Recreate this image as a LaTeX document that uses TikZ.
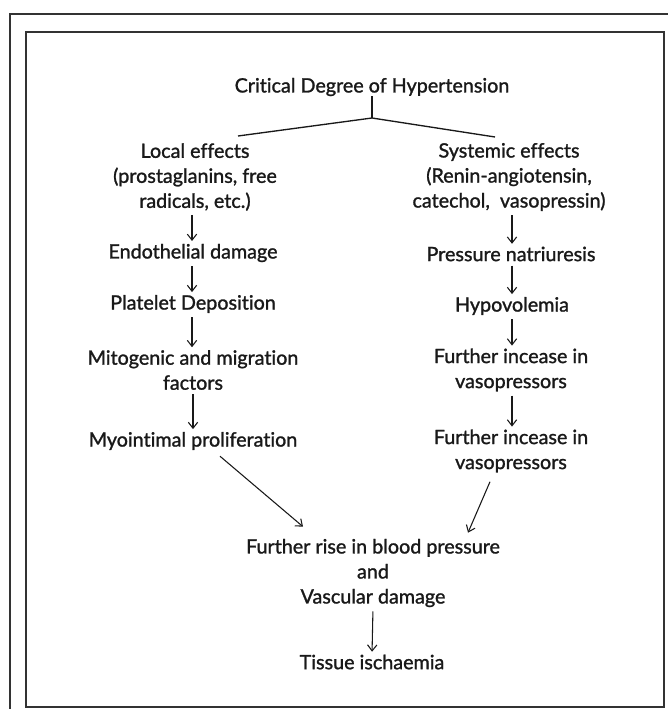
\documentclass[tikz,border=0pt]{standalone}
\usepackage{fontspec}
\setmainfont{Lato}[Ligatures={NoCommon},FakeBold=1.3]
\usetikzlibrary{arrows.meta,calc}
\begin{document}
\begin{tikzpicture}[x=0.75pt,y=-0.75pt,
  txt/.style={align=center,inner sep=0pt,text=black!90,font=\fontsize{14.8}{18.75}\selectfont},
  arr/.style={-{Straight Barb[length=4.5pt,width=7pt]},line width=0.8pt,draw=black!90,shorten <=3pt,shorten >=2pt},
  branch/.style={line width=1pt,draw=black!90},
  frame/.style={line width=1.3pt,draw=black!80}]
\useasboundingbox (0,0) rectangle (667,709);
\fill[white] (0,0) rectangle (667,709);
\draw[frame] (10,712) -- (10,14) -- (670,14);
\draw[frame] (26,32) rectangle (664,707);

% title and tree
\node[txt] (T) at (372,87) {Critical Degree of Hypertension};
\coordinate (J) at (372,118);
\coordinate (BL) at (238,136);
\coordinate (BR) at (495,137);
\draw[branch] (T.south) -- (J);
\draw[branch] (BL) -- (J) -- (BR);

% left column
\node[txt] (L1) at (195,177) {Local effects\\(prostaglanins, free\\radicals, etc.)};
\node[txt] (L2) at (193,253) {Endothelial damage};
\node[txt] (L3) at (193,304) {Platelet Deposition};
\node[txt] (L4) at (193,370) {Mitogenic and migration\\factors};
\node[txt] (L5) at (193,441) {Myointimal proliferation};

% right column
\node[txt] (R1) at (509,177) {Systemic effects\\(Renin-angiotensin,\\catechol,\ \ vasopressin)};
\node[txt] (R2) at (511,254) {Pressure natriuresis};
\node[txt] (R3) at (512,306) {Hypovolemia};
\node[txt] (R4) at (511,370) {Further incease in\\vasopressors};
\node[txt] (R5) at (511,451) {Further incease in\\vasopressors};

% bottom
\node[txt] (B1) at (373,573) {Further rise in blood pressure\\and\\Vascular damage};
\node[txt] (B2) at (372,662) {Tissue ischaemia};

% arrows
\draw[arr] (L1.south -| 192,0) -- (L2.north -| 192,0);
\draw[arr] (L2.south -| 192,0) -- (L3.north -| 192,0);
\draw[arr] (L3.south -| 192,0) -- (L4.north -| 192,0);
\draw[arr] (L4.south -| 193,0) -- (L5.north -| 193,0);
\draw[arr] (R1.south -| 512,0) -- (R2.north -| 512,0);
\draw[arr] (R2.south -| 512,0) -- (R3.north -| 512,0);
\draw[arr] (R3.south -| 512,0) -- (R4.north -| 512,0);
\draw[arr] (R4.south -| 512,0) -- (R5.north -| 512,0);
\draw[arr,shorten <=0pt,shorten >=0pt] ($(L5.south)+(27,6)$) -- ($(B1.north)+(-70,-12)$);
\draw[arr,shorten <=0pt,shorten >=0pt] ($(R5.south)+(-21,9)$) -- ($(B1.north)+(95,-6)$);
\draw[arr] (B1.south) -- (B2.north);
\end{tikzpicture}
\end{document}
